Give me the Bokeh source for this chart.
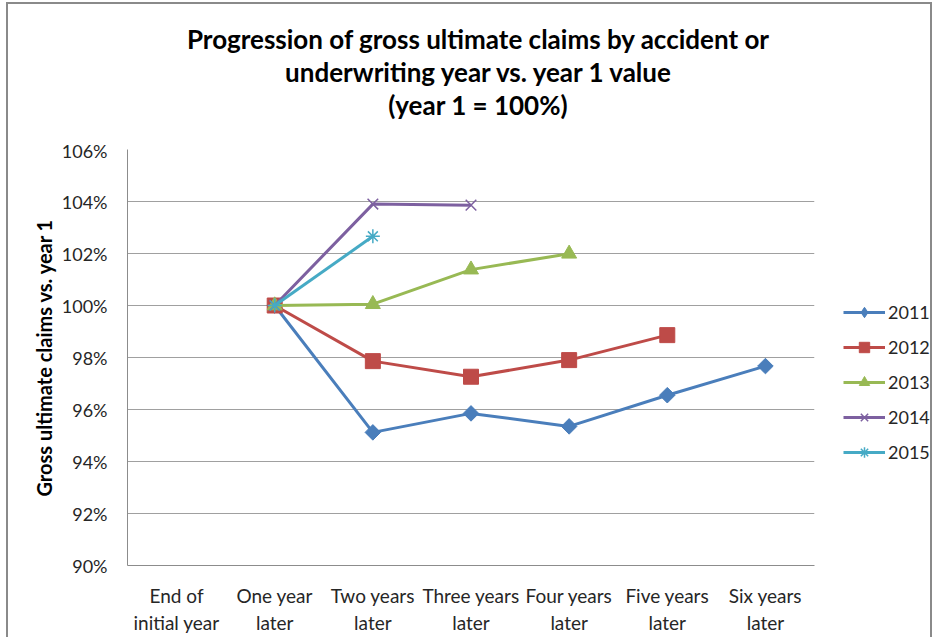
import math
from bokeh.plotting import figure
from bokeh.layouts import column, row
from bokeh.models import FactorRange, Legend, LegendItem, Div, NumeralTickFormatter, FixedTicker
from bokeh.embed import file_html
from bokeh.resources import INLINE

categories = ["End of\ninitial year", "One year\nlater", "Two years\nlater", "Three years\nlater",
              "Four years\nlater", "Five years\nlater", "Six years\nlater"]
series_names = ["2011", "2012", "2013", "2014", "2015"]
v2011 = [1.000, 0.9512, 0.9585, 0.9535, 0.9655, 0.9767]
v2012 = [1.000, 0.9786, 0.9726, 0.9790, 0.9886]
v2013 = [1.000, 1.0005, 1.0138, 1.0199]
v2014 = [1.000, 1.0390, 1.0386]
v2015 = [1.000, 1.0266]
y_ticks = [0.90, 0.92, 0.94, 0.96, 0.98, 1.00, 1.02, 1.04, 1.06]
title_lines = ["Progression of gross ultimate claims by accident or",
               "underwriting year vs. year 1 value",
               "(year 1 = 100%)"]

FONT = "Lato"
CW, CH = 922, 633          # container content size
TITLE_H = 135
MAIN_W = 812
FIG_H = CH - TITLE_H
PX, PY = 8, 4              # page position of container content
FIG_TOP = PY + TITLE_H

# ---------- title ----------
title_div = Div(text="<br>".join(title_lines), width=CW, height=TITLE_H, margin=0,
                styles={"font-family": FONT, "font-weight": "bold", "font-size": "26px",
                        "line-height": "33px", "text-align": "center", "color": "black",
                        "padding-top": "19px", "padding-left": "18px",
                        "box-sizing": "border-box", "width": f"{CW}px"})

# ---------- main chart ----------
p = figure(width=MAIN_W, height=FIG_H, x_range=FactorRange(*categories), y_range=(0.90, 1.06),
           output_backend="svg", toolbar_location=None, margin=0,
           min_border_left=127 - PX, min_border_right=MAIN_W - (814 - PX),
           min_border_top=149 - FIG_TOP, min_border_bottom=(FIG_TOP + FIG_H) - 568)
p.outline_line_color = None
p.background_fill_color = "white"
p.border_fill_color = "white"
p.xgrid.grid_line_color = None
p.ygrid.grid_line_color = "#a0a0a0"
p.ygrid.grid_line_width = 1
p.yaxis.ticker = FixedTicker(ticks=y_ticks)
p.yaxis.formatter = NumeralTickFormatter(format="0%")

for ax in (p.xaxis[0], p.yaxis[0]):
    ax.axis_line_color = "#8c8c8c"
    ax.axis_line_width = 1
    ax.major_tick_line_color = None
    ax.minor_tick_line_color = None
    ax.major_label_text_font = FONT
    ax.major_label_text_color = "#262626"
p.yaxis.major_label_text_font_size = "18px"
p.xaxis.major_label_text_font_size = "19px"
p.yaxis.major_label_standoff = 14
p.xaxis.major_label_standoff = 12
p.yaxis.axis_label = "Gross ultimate claims vs. year 1"
p.yaxis.axis_label_text_font = FONT
p.yaxis.axis_label_text_font_size = "20px"
p.yaxis.axis_label_text_font_style = "bold"
p.yaxis.axis_label_text_color = "black"
p.yaxis.axis_label_standoff = 3

colors = ["#4a7ebb", "#be4b48", "#98b954", "#7d60a0", "#46aac5"]
data = [v2011, v2012, v2013, v2014, v2015]


def add_series(fig, i, xs, vals, c, in_legend=False):
    ln = fig.line(xs, vals, line_color=c, line_width=3)
    if i == 0:
        if in_legend:
            mk = fig.scatter(xs, vals, marker="diamond", size=12, fill_color=c, line_color=c)
        else:
            mk = fig.scatter(xs, vals, marker="square", angle=math.pi / 4, size=11,
                             fill_color=c, line_color=c)
    elif i == 1:
        mk = fig.scatter(xs, vals, marker="square", size=15, fill_color=c, line_color=c)
    elif i == 2:
        mk = fig.scatter(xs, vals, marker="triangle", size=15, fill_color=c, line_color=c)
    elif i == 3:
        mk = fig.scatter(xs, vals, marker="x", size=15, line_color=c, line_width=1.5)
    else:
        mk = fig.scatter(xs, vals, marker="asterisk", size=14, line_color=c, line_width=1.5)
    return ln, mk


for i, (vals, c) in enumerate(zip(data, colors)):
    add_series(p, i, categories[1:1 + len(vals)], vals, c)

# ---------- legend panel (same series, ranges chosen so only the legend shows) ----------
LEG_W = CW - MAIN_W
lg = figure(width=LEG_W, height=FIG_H, x_range=FactorRange(*categories), y_range=(2, 3),
            output_backend="svg", toolbar_location=None, margin=0,
            min_border_left=0, min_border_right=0, min_border_top=0, min_border_bottom=0)
lg.axis.visible = False
lg.grid.visible = False
lg.outline_line_color = None
lg.background_fill_color = "white"
lg.border_fill_color = "white"
items = []
for i, (name, vals, c) in enumerate(zip(series_names, data, colors)):
    ln, mk = add_series(lg, i, categories[1:1 + len(vals)], vals, c, in_legend=True)
    items.append(LegendItem(label=name, renderers=[ln, mk]))
legend = Legend(items=items, location=(843 - (PX + MAIN_W), 100),
                orientation="vertical", glyph_width=42, glyph_height=26, label_height=20,
                spacing=9, padding=0, margin=0, label_standoff=3,
                label_text_font=FONT, label_text_font_size="18px", label_text_color="#262626",
                border_line_color=None, background_fill_alpha=0)
lg.add_layout(legend)

layout = column(title_div, row(p, lg, spacing=0, margin=0), spacing=0, margin=0,
                styles={"border-left": "2px solid #8a8a8a", "border-top": "2px solid #8a8a8a",
                        "border-right": "2px solid #8a8a8a", "margin-left": "6px",
                        "margin-top": "2px", "background": "white"})

open("out.html", "w").write(file_html(layout, INLINE))
